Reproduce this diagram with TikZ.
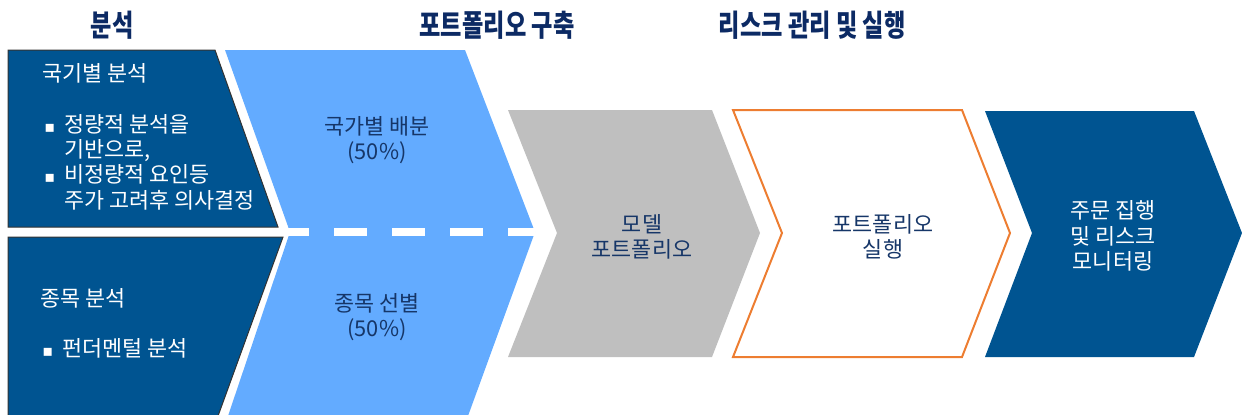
\documentclass[tikz,border=0pt]{standalone}
\usepackage{fontspec}
\usepackage{graphicx}
\setmainfont{Noto Sans CJK KR}
\newfontfamily\symfont{DejaVu Sans}
\usetikzlibrary{positioning}

\definecolor{darkblue}{RGB}{0,84,145}
\definecolor{lightblue}{RGB}{99,171,255}
\definecolor{modelgray}{RGB}{191,191,191}
\definecolor{execorange}{RGB}{237,125,49}
\definecolor{navytext}{RGB}{22,54,104}
\definecolor{headnavy}{RGB}{12,42,100}

\newcommand{\bul}{\makebox[10pt][l]{\symfont\fontsize{8}{8}\selectfont ▪}}
\newcommand{\tallhead}[1]{\scalebox{1}[1.3]{#1}}

\tikzset{
  headtext/.style={font=\bfseries\fontsize{11.6}{13}\selectfont, text=headnavy, inner sep=0pt},
  bodytext/.style={font=\fontsize{10.9}{12.7}\selectfont, align=center, inner sep=0pt},
  analysisbox/.style={fill=darkblue, draw=black!80, line width=0.5pt},
}

\begin{document}
\begin{tikzpicture}[x=0.5pt, y=-0.5pt]
\useasboundingbox (0,0) rectangle (1242,414);
% stage shapes
\path[analysisbox] (8,50) -- (215,50) -- (278,227) -- (8,227) -- cycle;
\path[analysisbox] (8,237) -- (283,237) -- (218,416) -- (8,416) -- cycle;
\fill[lightblue] (225,50) -- (465,50) -- (535,232) -- (468,416) -- (228,416) -- (290,232) -- cycle;
\draw[white, line width=4pt, dash pattern=on 16.5pt off 12.5pt] (276,232) -- (535,232);
\fill[modelgray] (508,110) -- (712,110) -- (760,233) -- (712,357) -- (508,357) -- (557,233) -- cycle;
\draw[execorange, line width=1pt] (733,110) -- (962,110) -- (1010,233) -- (962,357) -- (733,357) -- (782,233) -- cycle;
\fill[darkblue] (985,111) -- (1194,111) -- (1242,233) -- (1194,357) -- (985,357) -- (1032,233) -- cycle;
% headings
\node[headtext] (analysis) at (112,25) {\tallhead{분석}};
\node[headtext] (build) at (497,25) {\tallhead{포트폴리오 구축}};
\node[headtext] (risk) at (812,25) {\tallhead{리스크 관리 및 실행}};
% analysis texts
\node[bodytext, text=white, anchor=west] (country) at (42,73) {국기별 분석};
\node[bodytext, text=white, anchor=west, align=left] (countrylist) at (44,162)
  {\bul 정량적 분석을\\\hspace*{10pt}기반으로,\\\bul 비정량적 요인등\\\hspace*{10pt}주가 고려후 의사결정};
\node[bodytext, text=white, anchor=west] (stock) at (40,298) {종목 분석};
\node[bodytext, text=white, anchor=west, align=left] (stocklist) at (42,348) {\bul 펀더멘털 분석};
% stage texts
\node[bodytext, text=navytext] (alloc) at (377,140) {국가별 배분\\(50\%)};
\node[bodytext, text=navytext] (select) at (377,317) {종목 선별\\(50\%)};
\node[bodytext, text=navytext] (model) at (642,237) {모델\\포트폴리오};
\node[bodytext, text=navytext] (exec) at (883,237) {포트폴리오\\실행};
\node[bodytext, text=white] (monitor) at (1113,236) {주문 집행\\및 리스크\\모니터링};
\end{tikzpicture}
\end{document}
